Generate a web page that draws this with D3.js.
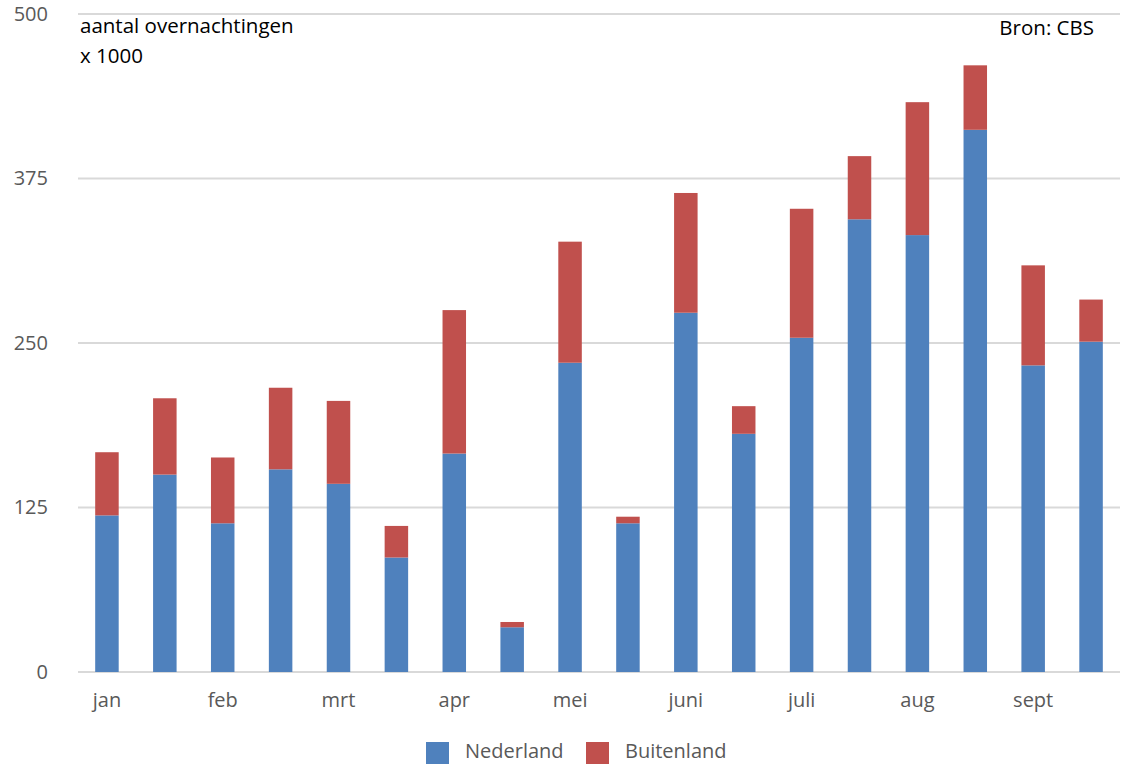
<!DOCTYPE html>
<html>
<head>
<meta charset="utf-8">
<script src="https://cdn.jsdelivr.net/npm/d3@7"></script>
<style>
  body { margin: 0; background: #fff; }
  text { font-family: "Open Sans", sans-serif; }
</style>
</head>
<body>
<div id="chart"></div>
<script>
// Two bars per month
const categories = ["jan-1","jan-2","feb-1","feb-2","mrt-1","mrt-2","apr-1","apr-2","mei-1","mei-2",
                    "juni-1","juni-2","juli-1","juli-2","aug-1","aug-2","sept-1","sept-2"];
const monthLabels = ["jan","","feb","","mrt","","apr","","mei","","juni","","juli","","aug","","sept",""];
const nederland  = [119,150,113,154,143,87,166,34,235,113,273,181,254,344,332,412,233,251];
const buitenland = [48,58,50,62,63,24,109,4,92,5,91,21,98,48,101,49,76,32];
const yTicks = [0,125,250,375,500];
const seriesNames = ["Nederland","Buitenland"];
const colors = ["#4f81bd","#c0504d"];

const W = 1124, H = 764;
const margin = {top: 14, right: 4, bottom: 92, left: 78};
const width = W - margin.left - margin.right,
      height = H - margin.top - margin.bottom;

const svg = d3.select("#chart")
  .append("svg")
    .attr("width", W)
    .attr("height", H);

const g = svg.append("g")
    .attr("transform", `translate(${margin.left},${margin.top})`);

const data = categories.map((c, i) => ({cat: c, Nederland: nederland[i], Buitenland: buitenland[i]}));
const stacked = d3.stack().keys(seriesNames)(data);

const x = d3.scaleBand()
  .domain(categories)
  .range([0, width])
  .paddingInner(0.594)
  .paddingOuter(0.297);

const y = d3.scaleLinear()
  .domain([0, 500])
  .range([height, 0]);

// Gridlines
g.selectAll(".grid")
  .data(yTicks)
  .enter().append("line")
    .attr("x1", 0)
    .attr("x2", width)
    .attr("y1", d => y(d))
    .attr("y2", d => y(d))
    .attr("stroke", "#d9d9d9")
    .attr("stroke-width", 2);

// Y axis labels
const yAxis = g.append("g")
  .call(d3.axisLeft(y).tickValues(yTicks).tickSize(0).tickPadding(30));
yAxis.select(".domain").remove();
yAxis.selectAll("text")
  .attr("fill", "#595959")
  .style("font-size", "20px")
  .style("font-family", "Open Sans");

// Bars
g.selectAll(".series")
  .data(stacked)
  .enter().append("g")
    .attr("fill", (d, i) => colors[i])
  .selectAll("rect")
  .data(d => d)
  .enter().append("rect")
    .attr("x", d => x(d.data.cat))
    .attr("y", d => y(d[1]))
    .attr("width", x.bandwidth())
    .attr("height", d => y(d[0]) - y(d[1]));

// X axis labels
const xAxis = g.append("g")
  .attr("transform", `translate(0,${height})`)
  .call(d3.axisBottom(x).tickSize(0).tickPadding(21)
    .tickFormat((d, i) => monthLabels[i]));
xAxis.select(".domain").remove();
xAxis.selectAll("text")
  .attr("fill", "#595959")
  .style("font-size", "20px")
  .style("font-family", "Open Sans");

// Titles
svg.append("text")
  .attr("x", 80)
  .attr("y", 33)
  .attr("fill", "#000")
  .style("font-size", "20.5px")
  .text("aantal overnachtingen");
svg.append("text")
  .attr("x", 80)
  .attr("y", 63)
  .attr("fill", "#000")
  .style("font-size", "20.5px")
  .text("x 1000");
svg.append("text")
  .attr("x", 1094)
  .attr("y", 35)
  .attr("text-anchor", "end")
  .attr("fill", "#000")
  .style("font-size", "20.5px")
  .text("Bron: CBS");

// Legend
const legendX = [426, 586];
const legend = svg.selectAll(".legend")
  .data(seriesNames)
  .enter().append("g")
    .attr("transform", (d, i) => `translate(${legendX[i]},742)`);
legend.append("rect")
  .attr("width", 23)
  .attr("height", 22)
  .attr("fill", (d, i) => colors[i]);
legend.append("text")
  .attr("x", 39)
  .attr("y", 16)
  .attr("fill", "#595959")
  .style("font-size", "20px")
  .text(d => d);
</script>
</body>
</html>
